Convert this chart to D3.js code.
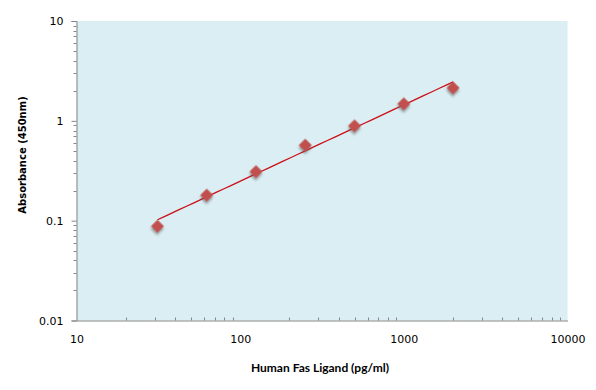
<!DOCTYPE html>
<html>
<head>
<meta charset="utf-8">
<script src="https://cdn.jsdelivr.net/npm/d3@7"></script>
<style>
  body { margin: 0; background: #fff; }
  svg { display: block; }
  .tick text { font-family: "DejaVu Sans", Verdana, sans-serif; font-size: 11px; fill: #000; }
</style>
</head>
<body>
<div id="chart"></div>
<script>
// standard concentrations (pg/ml) and absorbance
const concentrations = [31.25, 62.5, 125, 250, 500, 1000, 2000];
const absorbance = [0.088, 0.18, 0.31, 0.57, 0.89, 1.48, 2.14];
const xTicks = [10, 100, 1000, 10000];
const yTicks = [0.01, 0.1, 1, 10];

const width = 596, height = 390;
const margin = { top: 21, right: 28.5, bottom: 69.5, left: 76.5 };

const svg = d3.select("#chart").append("svg")
  .attr("width", width)
  .attr("height", height);

const defs = svg.append("defs");
defs.append("filter")
  .attr("id", "shadow")
  .attr("x", "-50%").attr("y", "-50%")
  .attr("width", "200%").attr("height", "200%")
  .append("feDropShadow")
  .attr("dx", 1.5).attr("dy", 2)
  .attr("stdDeviation", 1.3)
  .attr("flood-color", "#555")
  .attr("flood-opacity", 0.55);

const x = d3.scaleLog().domain([10, 10000]).range([margin.left, width - margin.right]);
const y = d3.scaleLog().domain([0.01, 10]).range([height - margin.bottom, margin.top]);

// plot area
svg.append("rect")
  .attr("x", x(10)).attr("y", y(10))
  .attr("width", x(10000) - x(10))
  .attr("height", y(0.01) - y(10))
  .style("fill", "#DAEEF3");

// minor ticks, one set per decade
const minorX = [], minorY = [];
for (let d = 10; d < 10000; d *= 10) for (let k = 2; k <= 9; k++) minorX.push(d * k);
for (let d = 0.01; d < 10; d *= 10) for (let k = 2; k <= 9; k++) minorY.push(d * k);

svg.selectAll(".minorX")
  .data(minorX).enter()
  .append("line")
  .attr("class", "minorX")
  .attr("x1", (d) => Math.round(x(d)) + 0.5)
  .attr("x2", (d) => Math.round(x(d)) + 0.5)
  .attr("y1", y(0.01))
  .attr("y2", y(0.01) - 3)
  .style("stroke", "#868686");

svg.selectAll(".minorY")
  .data(minorY).enter()
  .append("line")
  .attr("class", "minorY")
  .attr("x1", x(10))
  .attr("x2", x(10) - 3)
  .attr("y1", (d) => Math.round(y(d)) + 0.5)
  .attr("y2", (d) => Math.round(y(d)) + 0.5)
  .style("stroke", "#868686");

const xAxis = svg.append("g")
  .attr("transform", `translate(0,${y(0.01)})`)
  .call(d3.axisBottom(x).tickValues(xTicks).tickFormat(d3.format("d")).tickSize(0).tickPadding(15));
xAxis.select(".domain").style("stroke", "#868686");

const yAxis = svg.append("g")
  .attr("transform", `translate(${x(10)},0)`)
  .call(d3.axisLeft(y).tickValues(yTicks).tickFormat((d) => String(d)).tickSize(5).tickPadding(8));
yAxis.select(".domain").style("stroke", "#868686");
yAxis.selectAll(".tick line").style("stroke", "#868686");

// power trendline: least squares in log-log space
const lx = concentrations.map(Math.log10), ly = absorbance.map(Math.log10);
const mx = d3.mean(lx), my = d3.mean(ly);
const slope = d3.sum(lx, (v, i) => (v - mx) * (ly[i] - my)) / d3.sum(lx, (v) => (v - mx) * (v - mx));
const intercept = my - slope * mx;
const fitX = d3.range(0, 41).map((i) => Math.pow(10, lx[0] + (lx[lx.length - 1] - lx[0]) * i / 40));
svg.append("path")
  .datum(fitX)
  .attr("d", d3.line().x((d) => x(d)).y((d) => y(Math.pow(10, intercept + slope * Math.log10(d)))))
  .style("fill", "none")
  .style("stroke", "#CC1018")
  .style("stroke-width", 1.3);

// markers
svg.selectAll(".point")
  .data(concentrations).enter()
  .append("path")
  .attr("class", "point")
  .attr("d", d3.symbol().type(d3.symbolSquare).size(84))
  .attr("transform", (d, i) => `translate(${x(d)},${y(absorbance[i])}) rotate(45)`)
  .attr("filter", "url(#shadow)")
  .style("fill", "#C0504D");

// axis titles
svg.append("text")
  .attr("x", 320).attr("y", 372)
  .attr("text-anchor", "middle")
  .style("font-family", "Lato, 'Open Sans', sans-serif")
  .style("font-weight", "bold")
  .style("font-size", "12px")
  .text("Human Fas Ligand (pg/ml)");

svg.append("text")
  .attr("transform", "translate(26,155) rotate(-90)")
  .attr("text-anchor", "middle")
  .style("font-family", "'DejaVu Sans', Verdana, sans-serif")
  .style("font-weight", "bold")
  .style("font-size", "10px")
  .text("Absorbance (450nm)");
</script>
</body>
</html>
